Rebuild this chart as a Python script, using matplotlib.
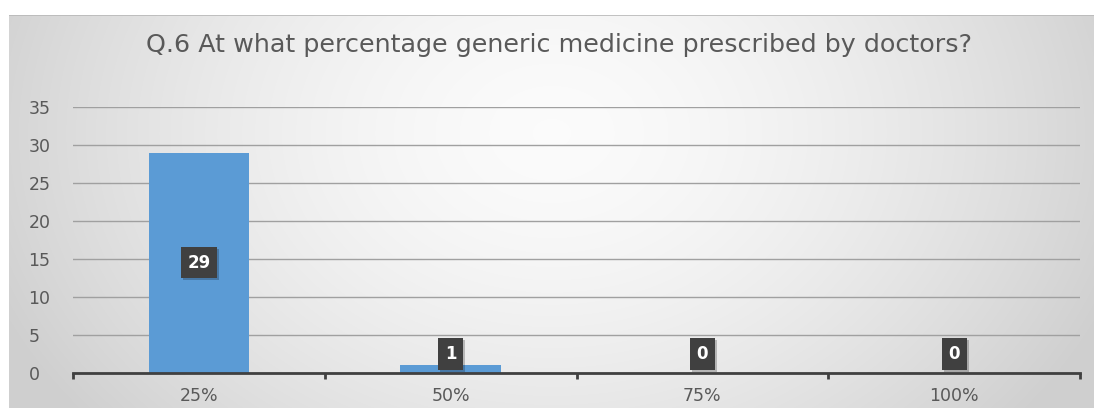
import numpy as np
import matplotlib
matplotlib.use("Agg")
import matplotlib.pyplot as plt
import matplotlib.transforms as mtransforms

categories = ["25%", "50%", "75%", "100%"]
counts = [29, 1, 0, 0]
y_ticks = [0, 5, 10, 15, 20, 25, 30, 35]
title = "Q.6 At what percentage generic medicine prescribed by doctors?"

plt.rcParams["font.family"] = ["DejaVu Sans"]

fig = plt.figure(figsize=(10.94, 4.08), dpi=100)
fig.patch.set_facecolor("white")

# chart area with radial grey gradient
bg = fig.add_axes([9 / 1094, 0, 1 - 9 / 1094, 1 - 15 / 408])
bg.set_axis_off()
h, w = 400, 1085
yy, xx = np.mgrid[0:h, 0:w]
cx, cy = w * 0.5, h * 0.3
r = np.sqrt(((xx - cx) / (w * 0.55)) ** 2 + ((yy - cy) / (h * 1.15)) ** 2)
shade = 0.985 - 0.17 * np.clip(r, 0, 1) ** 1.6
img = np.dstack([shade, shade, shade])
bg.imshow(img, aspect="auto", extent=[0, 1, 0, 1], interpolation="bilinear")
bg.set_xlim(0, 1)
bg.set_ylim(0, 1)
bg.plot([0, 1], [1, 1], color="#b8b8b8", lw=1.2, transform=bg.transAxes)

ax = fig.add_axes([73 / 1094, 1 - 373 / 408, (1080 - 73) / 1094, (373 - 107) / 408])
ax.set_facecolor("none")
x = np.arange(len(categories))
ax.bar(x, counts, width=0.4, color="#5B9BD5", zorder=2)

ax.set_xlim(-0.5, len(categories) - 0.5)
ax.set_ylim(0, 35)
ax.set_yticks(y_ticks)
ax.set_yticklabels([str(v) for v in y_ticks])
ax.yaxis.grid(True, color="#a0a0a0", lw=1.0, zorder=0)
ax.set_axisbelow(True)

ax.set_xticks(x)
ax.set_xticklabels(categories)
ax.set_xticks(np.arange(-0.5, len(categories)), minor=True)
ax.tick_params(axis="x", which="major", length=0, pad=10, labelsize=12.5, labelcolor="#595959")
ax.tick_params(axis="x", which="minor", length=4, width=2, color="#404040", direction="out")
ax.tick_params(axis="y", length=0, pad=32, labelsize=12.5, labelcolor="#595959")
for lab in ax.get_yticklabels():
    lab.set_horizontalalignment("left")

for side in ["top", "right", "left"]:
    ax.spines[side].set_visible(False)
ax.spines["bottom"].set_color("#404040")
ax.spines["bottom"].set_linewidth(2)
ax.spines["bottom"].set_zorder(3)

# value labels in dark boxes with a soft drop shadow
for xi, v in zip(x, counts):
    ly = max(v / 2, 2.5)
    shadow_tr = ax.transData + mtransforms.ScaledTranslation(2 / 100, -2 / 100, fig.dpi_scale_trans)
    ax.text(xi, ly, str(v), ha="center", va="center", fontsize=12, fontweight="bold",
            color="none", transform=shadow_tr, zorder=4,
            bbox=dict(boxstyle="square,pad=0.4", fc="#000000", ec="none", alpha=0.22))
    ax.text(xi, ly, str(v), ha="center", va="center", fontsize=12, fontweight="bold",
            color="white", zorder=5,
            bbox=dict(boxstyle="square,pad=0.4", fc="#404040", ec="none"))

fig.text(559 / 1094, 1 - 45 / 408, title, ha="center", va="center",
         fontsize=18.3, color="#595959")

fig.savefig("out.png", dpi=100)
